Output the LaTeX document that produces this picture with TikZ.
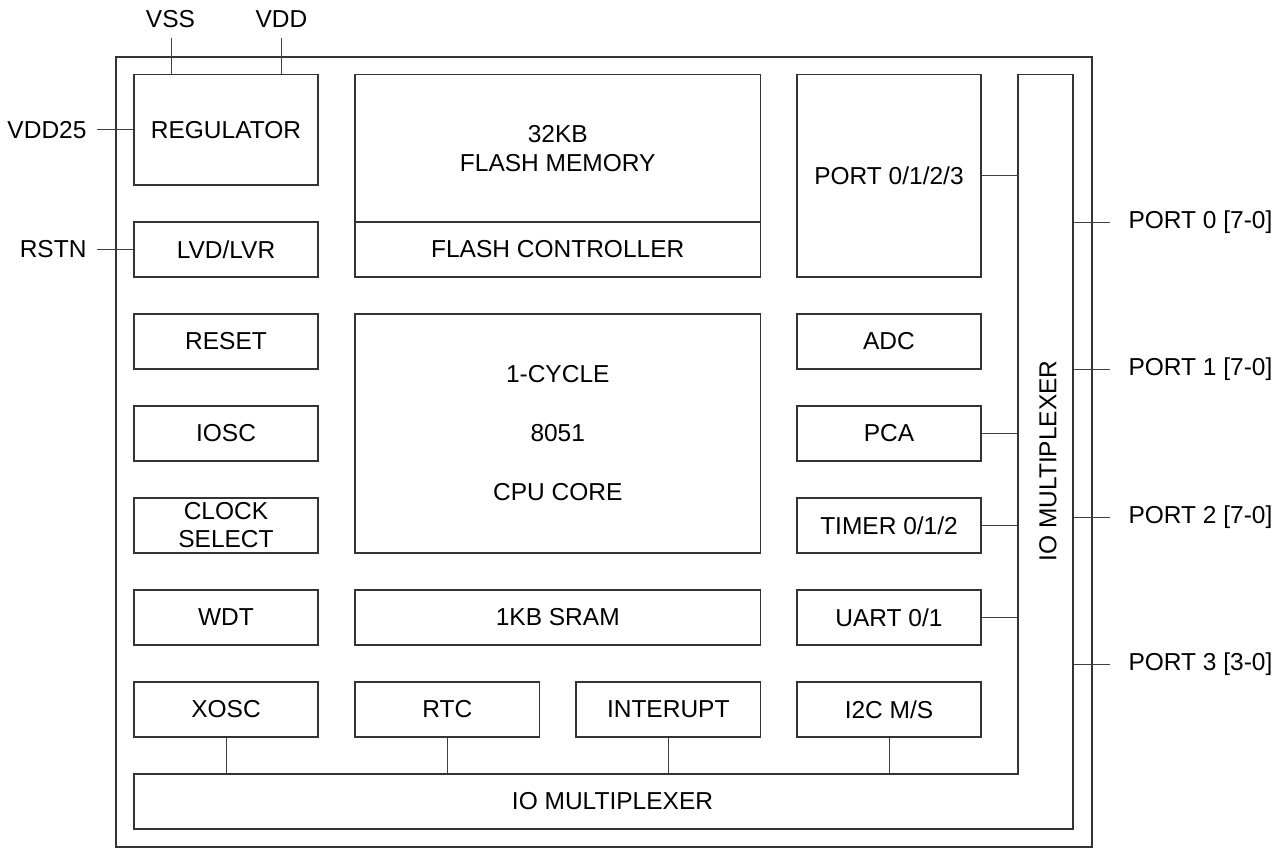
\documentclass[tikz,border=0pt]{standalone}
\usepackage{fontspec}
\setmainfont{Liberation Sans}
\begin{document}
\begin{tikzpicture}[x=1pt,y=-1pt,
  font=\fontsize{24.5}{29}\selectfont,
  line width=1.1pt,
  blk/.style={draw=black!80, rectangle, inner sep=0pt, align=center},
  colbox/.style={blk, minimum width=184pt, minimum height=55pt},
  midbox/.style={blk, minimum width=405.5pt, minimum height=55pt},
  wire/.style={draw=black!75, line width=1pt},
  lbl/.style={inner sep=0pt}]
\useasboundingbox (0,0) rectangle (1287,849);
\fill[white] (0,0) rectangle (1287,849);

% outer chip boundary
\draw[black!80] (116,57) rectangle (1092,847);

% IO multiplexer (L-shaped)
\draw[black!80] (134,774) -- (1018,774) -- (1018,74.5) -- (1073,74.5) -- (1073,829) -- (134,829) -- cycle;
\node[lbl] (muxb) at (612.5,801) {IO MULTIPLEXER};
\node[lbl, rotate=90] (muxv) at (1048,461) {IO MULTIPLEXER};
\coordinate (muxtop) at (0,774);
\coordinate (muxleft) at (1018,0);

% left column
\node[colbox, minimum height=110.5pt] (reg) at (226,129.75) {REGULATOR};
\node[colbox] (lvd) at (226,249.5) {LVD/LVR};
\node[colbox] (reset) at (226,341.5) {RESET};
\node[colbox] (iosc) at (226,433.5) {IOSC};
\node[colbox, font=\fontsize{24.5}{28}\selectfont] (clk) at (226,525.5) {CLOCK\\SELECT};
\node[colbox] (wdt) at (226,617.5) {WDT};
\node[colbox] (xosc) at (226,709.5) {XOSC};

% middle column
\node[midbox, minimum height=147.5pt] (flash) at (557.75,148.25) {32KB\\FLASH MEMORY};
\node[midbox] (fctl) at (557.75,249.5) {FLASH CONTROLLER};
\node[midbox, minimum height=239pt, font=\fontsize{24.5}{59}\selectfont] (cpu) at (557.75,433.5) {1-CYCLE\\8051\\CPU CORE};
\node[midbox] (sram) at (557.75,617.5) {1KB SRAM};
\node[blk, minimum width=184.5pt, minimum height=55pt] (rtc) at (447.25,709.5) {RTC};
\node[blk, minimum width=184.5pt, minimum height=55pt] (intr) at (668.25,709.5) {INTERUPT};

% right column
\node[colbox, minimum height=202.5pt] (port) at (889,175.75) {PORT 0/1/2/3};
\node[colbox] (adc) at (889,341.5) {ADC};
\node[colbox] (pca) at (889,433.5) {PCA};
\node[colbox] (timer) at (889,525.5) {TIMER 0/1/2};
\node[colbox] (uart) at (889,617.5) {UART 0/1};
\node[colbox] (i2c) at (889,709.5) {I2C M/S};

% internal connectors to the multiplexer
\draw[wire] (port.east) -- (port.east -| muxleft);
\draw[wire] (pca.east) -- (pca.east -| muxleft);
\draw[wire] (timer.east) -- (timer.east -| muxleft);
\draw[wire] (uart.east) -- (uart.east -| muxleft);
\draw[wire] (xosc.south) -- (xosc.south |- muxtop);
\draw[wire] (rtc.south) -- (rtc.south |- muxtop);
\draw[wire] (intr.south) -- (intr.south |- muxtop);
\draw[wire] (i2c.south) -- (i2c.south |- muxtop);

% power pins
\node[lbl] (vss) at (170.5,19) {VSS};
\node[lbl] (vdd) at (281.5,19) {VDD};
\coordinate (vssend) at (171,38);
\coordinate (vddend) at (281.5,38);
\draw[wire] (vssend) -- (vssend |- reg.north);
\draw[wire] (vddend) -- (vddend |- reg.north);
\node[lbl, anchor=east, inner xsep=10pt] (vdd25) at (97,129.75) {VDD25};
\draw[wire] (vdd25.east) -- (reg.west);
\node[lbl, anchor=east, inner xsep=10pt] (rstn) at (97,249.5) {RSTN};
\draw[wire] (rstn.east) -- (lvd.west);

% port pins
\coordinate (p0s) at (1073,222);
\coordinate (p1s) at (1073,369);
\coordinate (p2s) at (1073,517);
\coordinate (p3s) at (1073,664);
\node[lbl, anchor=west, inner xsep=18pt] (p0) at (1110,222) {PORT 0 [7-0]};
\node[lbl, anchor=west, inner xsep=18pt] (p1) at (1110,369) {PORT 1 [7-0]};
\node[lbl, anchor=west, inner xsep=18pt] (p2) at (1110,517) {PORT 2 [7-0]};
\node[lbl, anchor=west, inner xsep=18pt] (p3) at (1110,664) {PORT 3 [3-0]};
\draw[wire] (p0s) -- (p0.west);
\draw[wire] (p1s) -- (p1.west);
\draw[wire] (p2s) -- (p2.west);
\draw[wire] (p3s) -- (p3.west);
\end{tikzpicture}
\end{document}
